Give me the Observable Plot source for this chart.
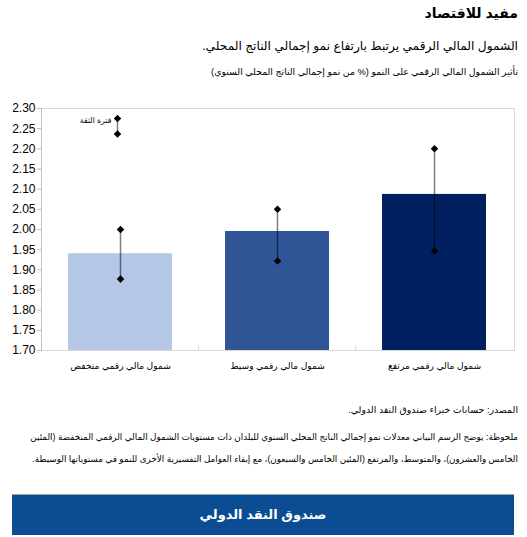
<!DOCTYPE html>
<html>
<head>
<meta charset="utf-8">
<script src="https://cdn.jsdelivr.net/npm/d3@7"></script>
<script src="https://cdn.jsdelivr.net/npm/@observablehq/plot@0.6"></script>
<style>
  body { margin: 0; width: 527px; height: 537px; background: #fff; font-family: "Liberation Sans", "DejaVu Sans", sans-serif; position: relative; overflow: hidden; }
  .t { position: absolute; right: 9px; direction: rtl; text-align: right; color: #000; white-space: nowrap; }
  #title { top: 5px; font-size: 14px; font-weight: bold; }
  #sub { top: 39px; font-size: 12.2px; }
  #sub2 { top: 66px; font-size: 9.3px; }
  #chart { position: absolute; left: 0; top: 95px; direction: ltr; }
  #source { top: 404px; font-size: 9.4px; }
  #note { top: 426px; font-size: 8.8px; line-height: 22px; }
  #footer { position: absolute; left: 12px; top: 494px; width: 502px; height: 40px; background: #0b4c92; border-top: 1px solid #9aa6b4; color: #fff; font-weight: bold; font-size: 13px; text-align: center; line-height: 40px; direction: rtl; }
</style>
</head>
<body>
<div class="t" id="title">مفيد للاقتصاد</div>
<div class="t" id="sub">الشمول المالي الرقمي يرتبط بارتفاع نمو إجمالي الناتج المحلي.</div>
<div class="t" id="sub2">تأثير الشمول المالي الرقمي على النمو (% من نمو إجمالي الناتج المحلي السنوي)</div>
<div id="chart"></div>
<div class="t" id="source">المصدر: حسابات خبراء صندوق النقد الدولي.</div>
<div class="t" id="note">ملحوظة: يوضح الرسم البياني معدلات نمو إجمالي الناتج المحلي السنوي للبلدان ذات مستويات الشمول المالي الرقمي المنخفضة (المئين<br>الخامس والعشرون)، والمتوسط، والمرتفع (المئين الخامس والسبعون)، مع إبقاء العوامل التفسيرية الأخرى للنمو في مستوياتها الوسيطة.</div>
<div id="footer">صندوق النقد الدولي</div>
<script>
// values
const categories = ["شمول مالي رقمي منخفض", "شمول مالي رقمي وسيط", "شمول مالي رقمي مرتفع"];
const growth = [1.94, 1.995, 2.087];
const ciLow = [1.877, 1.922, 1.947];
const ciHigh = [2.0, 2.05, 2.2];
const colors = ["#b4c7e7", "#2f5597", "#002060"];
const yTicks = d3.range(1.7, 2.3001, 0.05);
const legendLabel = "فترة الثقة";
const legendLow = 2.237, legendHigh = 2.275;

const data = categories.map((c, i) => ({cat: c, value: growth[i], lo: ciLow[i], hi: ciHigh[i], color: colors[i]}));
const legend = [{cat: categories[0], lo: legendLow, hi: legendHigh}];

const W = 527, ml = 41, mr = 13;
const step = (W - ml - mr) / categories.length;
const dotR = 3.4;

function draw() {
    const plot = Plot.plot({
        width: W,
        height: 290,
        marginLeft: ml,
        marginRight: mr,
        marginTop: 13,
        marginBottom: 35,
        style: {fontFamily: "Liberation Sans, DejaVu Sans, sans-serif", fontSize: "12px", color: "#000", overflow: "visible"},
        x: {domain: categories, paddingInner: 0.335, paddingOuter: 0.1675, label: null},
        y: {domain: [1.7, 2.3], label: null},
        marks: [
            Plot.frame({stroke: "#d9d9d9"}),
            Plot.frame({anchor: "left", stroke: "#bfbfbf"}),
            Plot.barY(data, {x: "cat", y1: 1.7, y2: "value", fill: "color"}),
            // small separators between categories
            Plot.ruleX(categories.slice(1), {x: d => d, y1: 1.7, y2: 1.7125, dx: -step / 2, stroke: "#d9d9d9"}),
            Plot.ruleX(data, {x: "cat", y1: "lo", y2: "hi", stroke: "#000", strokeOpacity: 0.5, strokeWidth: 1.5}),
            Plot.dot(data, {x: "cat", y: "lo", symbol: "diamond2", fill: "#000", r: dotR}),
            Plot.dot(data, {x: "cat", y: "hi", symbol: "diamond2", fill: "#000", r: dotR}),
            Plot.ruleX(legend, {x: "cat", y1: "lo", y2: "hi", dx: -3, stroke: "#000", strokeOpacity: 0.5, strokeWidth: 1.5}),
            Plot.dot(legend, {x: "cat", y: "lo", dx: -3, symbol: "diamond2", fill: "#000", r: dotR}),
            Plot.dot(legend, {x: "cat", y: "hi", dx: -3, symbol: "diamond2", fill: "#000", r: dotR}),
            Plot.text(legend, {x: "cat", y: "hi", dx: -9, dy: 2, text: () => legendLabel, textAnchor: "end", fontSize: 7.8}),
            Plot.axisY({ticks: yTicks, tickFormat: d3.format(".2f"), tickSize: 4, tickPadding: 2, stroke: "#bfbfbf", fontSize: 12}),
            Plot.axisX({tickSize: 0, tickPadding: 12, fontSize: 9.1})
        ]
    });
    document.querySelector("#chart").append(plot);
}
draw();
</script>
</body>
</html>
